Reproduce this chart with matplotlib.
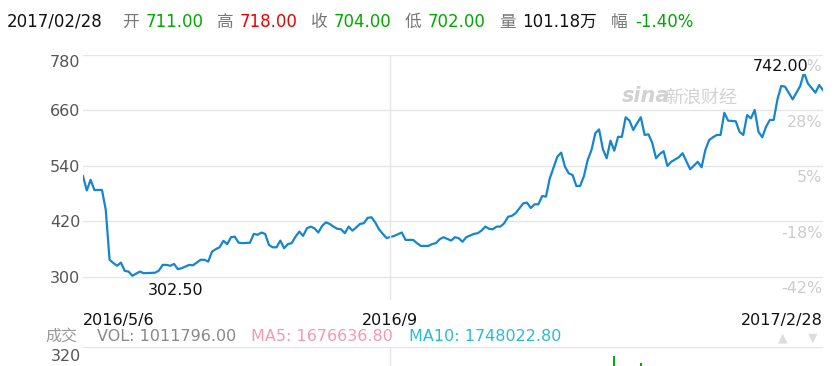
import numpy as np
import matplotlib.pyplot as plt
import matplotlib.transforms as mtransforms

plt.rcParams['font.family'] = ['DejaVu Sans', 'Noto Sans CJK SC']

# daily closes, 2016/5/6 .. 2017/2/28 (trading-day index, price)
day_idx = [0, 1, 2, 3, 5, 6, 7, 8, 9, 10, 11, 12, 13, 15, 16, 19, 20, 21, 22, 23,
           24, 25, 26, 28, 29, 31, 32, 33, 34, 35, 36, 37, 38, 39, 40, 41, 42, 44, 45, 46,
           47, 48, 49, 50, 51, 52, 53, 54, 55, 56, 57, 58, 59, 60, 61, 62, 63, 64, 65, 66,
           67, 68, 69, 70, 71, 72, 73, 74, 75, 76, 77, 78, 79, 80, 82, 84, 85, 87, 88, 89,
           91, 92, 93, 94, 95, 97, 98, 99, 100, 101, 103, 104, 105, 106, 107, 108, 109, 110, 111, 112,
           113, 114, 115, 116, 117, 118, 119, 120, 121, 122, 123, 125, 126, 127, 128, 129, 130, 131, 132, 133,
           134, 135, 136, 137, 138, 139, 140, 141, 142, 143, 144, 145, 146, 147, 148, 149, 150, 151, 152, 153,
           154, 155, 157, 158, 160, 162, 163, 164, 165, 166, 167, 168, 169, 170, 172, 173, 174, 175, 176, 177,
           178, 179, 180, 181, 182, 183, 184, 185, 187, 189, 190, 191, 193, 194, 195]
close = [518, 487, 510, 488, 488, 445, 337, 330, 324, 331, 313, 311.5, 302.5, 311.5, 308, 309, 313.6, 326, 326, 324,
         328, 316.6, 318.8, 326, 325, 337, 337, 333, 354.7, 360, 364, 378, 370.7, 385.8, 387, 374, 373, 374, 393, 391,
         396, 393, 369, 364, 364, 378.5, 362, 371, 373, 387, 398, 388.6, 405, 408.8, 405, 396, 410, 418, 414.6, 408.8,
         404, 403, 394.5, 408.8, 400, 407, 414.6, 416, 427.6, 429, 418, 403, 393, 384, 388.6, 396, 380, 380, 373, 367,
         367, 371, 373, 381.5, 385.8, 378.5, 385.8, 383.7, 376, 385.8, 393, 394.5, 400, 408.8, 404, 403, 408.8, 408.8, 416, 430,
         432, 437.7, 448.5, 459, 460.6, 449, 457, 457, 475, 473.6, 513, 560, 568.8, 538.5, 524, 520.5, 496.7, 496.7, 518, 553,
         574.6, 610.7, 619, 576, 556.6, 594.7, 573, 603, 603, 645.3, 638, 617.8, 632.3, 645.3, 607, 608.5, 590, 556.6, 566, 571.8,
         540, 549, 558.8, 567.5, 532.8, 549, 537, 574.6, 596, 602, 607, 607, 655, 638, 636.6, 614, 607, 650, 643, 661,
         614, 602, 625, 639.5, 639.5, 684, 713, 711.5, 684, 713, 742, 718.8, 698.5, 715, 704]

price_ticks = [300, 420, 540, 660, 780]
pct_labels = ['-42%', '-18%', '5%', '28%', '51%']
date_pos = [0, 81, 195]
date_labels = ['2016/5/6', '2016/9', '2017/2/28']

# volume pane (only the top of it is visible), in 万
vol_idx = [140, 147]
vol_val = [291, 268]

# header quote for 2017/02/28
header = [
    ('2017/02/28', '#111111', 7),
    ('开', '#777777', 122),
    ('711.00', '#00a800', 146),
    ('高', '#777777', 217),
    ('718.00', '#ee0000', 240),
    ('收', '#777777', 311),
    ('704.00', '#00a800', 334),
    ('低', '#777777', 405),
    ('702.00', '#00a800', 428),
    ('量', '#777777', 499),
    ('101.18万', '#111111', 522),
    ('幅', '#777777', 611),
    ('-1.40%', '#00a800', 635),
]

W, H = 836, 366
fig = plt.figure(figsize=(W / 100, H / 100), dpi=100)


def box(x0, y0, x1, y1):
    return [x0 / W, 1 - y1 / H, (x1 - x0) / W, (y1 - y0) / H]


grid_c = '#e6e6e6'
ax = fig.add_axes(box(83, 55, 823, 300))
ax.plot(day_idx, close, color='#1685d0', lw=1.6, solid_joinstyle='round')
ax.set_xlim(0, 195)
ax.set_ylim(250, 780)
ax.set_yticks(price_ticks)
ax.set_yticklabels([str(v) for v in price_ticks])
ax.yaxis.grid(True, color=grid_c, lw=1)
ax.axvline(81, color=grid_c, lw=1)
ax.set_axisbelow(True)
for s in ax.spines.values():
    s.set_visible(False)
ax.tick_params(axis='y', length=0, pad=2, labelsize=11.5, labelcolor='#555555')
ax.get_yticklabels()[-1].set_va('top')
ax.set_xticks(date_pos)
ax.set_xticklabels(date_labels)
ax.tick_params(axis='x', length=0, pad=9, labelsize=11.5, labelcolor='#111111')
for lab, ha in zip(ax.get_xticklabels(), ['left', 'center', 'right']):
    lab.set_ha(ha)

# percentage change labels on the right
tr = mtransforms.blended_transform_factory(ax.transAxes, ax.transData)
for v, p in zip(price_ticks, pct_labels):
    ax.text(0.999, v, p, transform=tr + mtransforms.ScaledTranslation(0, -3 / 72, fig.dpi_scale_trans),
            ha='right', va='top', fontsize=11.5, color='#cccccc')

# max / min annotations
i_max = int(np.argmax(close))
i_min = int(np.argmin(close))
ax.annotate(f'{close[i_max]:.2f}', (day_idx[i_max], close[i_max]), xytext=(3, 1),
            textcoords='offset points', ha='right', va='baseline', fontsize=11.5, color='#111111',
            bbox=dict(boxstyle='square,pad=0', fc='white', ec='none'))
ax.annotate(f'{close[i_min]:.2f}', (day_idx[i_min], close[i_min]), xytext=(11, -5),
            textcoords='offset points', ha='left', va='top', fontsize=11.5, color='#111111')

# watermark
fig.text(622 / W, 1 - 102 / H, 'sina', fontsize=15, fontweight='bold', style='italic',
         color='#d2d2d2', ha='left', va='baseline')
fig.text(665 / W, 1 - 103 / H, '新浪财经', fontsize=13, color='#d2d2d2', ha='left', va='baseline')

# header line
for txt, col, x in header:
    fig.text(x / W, 1 - 27 / H, txt, fontsize=12, color=col, ha='left', va='baseline')

# volume legend line
vol_line = [
    ('成交', '#999999', 45),
    ('VOL: 1011796.00', '#888888', 97),
    ('MA5: 1676636.80', '#f598b2', 251),
    ('MA10: 1748022.80', '#26bcd8', 409),
]
for txt, col, x in vol_line:
    fig.text(x / W, 1 - 341 / H, txt, fontsize=11.5, color=col, ha='left', va='baseline')
fig.text(783 / W, 1 - 341 / H, '▲', fontsize=9, color='#dddddd', ha='center', va='baseline')
fig.text(813 / W, 1 - 341 / H, '▼', fontsize=9, color='#dddddd', ha='center', va='baseline')

# volume pane
axv = fig.add_axes(box(83, 347, 823, 447))
axv.bar(vol_idx, vol_val, width=0.5, color='#00b000')
axv.set_xlim(0, 195)
axv.set_ylim(0, 320)
axv.axhline(320, color=grid_c, lw=1)
axv.axvline(81, color=grid_c, lw=1)
axv.set_axisbelow(True)
axv.set_xticks([])
axv.set_yticks([])
for s in axv.spines.values():
    s.set_visible(False)
fig.text(81 / W, 1 - 349 / H, '320', fontsize=11.5, color='#555555', ha='right', va='top')

fig.savefig('out.png', dpi=100)
